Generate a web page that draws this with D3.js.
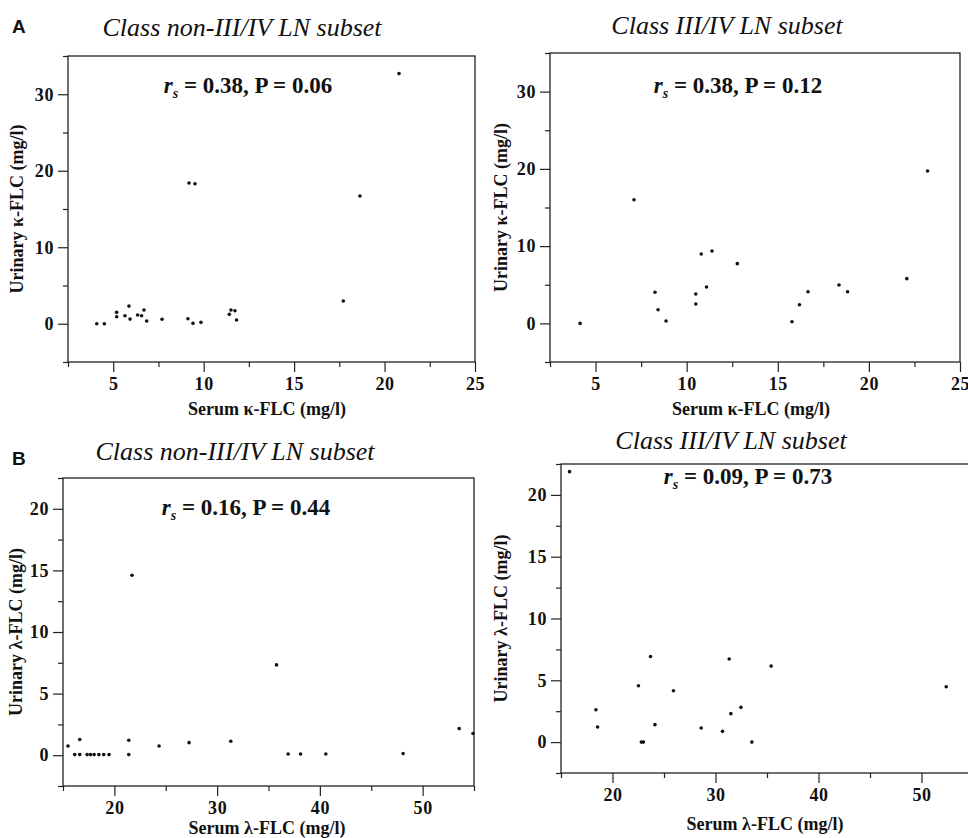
<!DOCTYPE html>
<html>
<head>
<meta charset="utf-8">
<script src="https://cdn.jsdelivr.net/npm/d3@7"></script>
<style>
body { margin: 0; background: #fff; }
svg text { font-family: "Liberation Serif", "Times New Roman", serif; fill: #111; }
.tick line { stroke: #222; stroke-width: 1.2; }
.frame { fill: none; stroke: #222; stroke-width: 1.3; }
</style>
</head>
<body>
<svg id="fig" width="968" height="838"></svg>
<script>
// data: [serum FLC, urinary FLC] in mg/l
var kappaNon = [[20.8,32.7],[9.19,18.4],[9.52,18.3],[18.64,16.7],[17.72,2.97],
	[4.09,0],[4.51,0],[5.19,1.49],[5.19,0.92],[5.65,1.05],[5.87,2.31],[5.93,0.61],
	[6.35,1.14],[6.57,1.05],[6.70,1.79],[6.85,0.35],[7.70,0.58],[9.13,0.65],
	[9.41,0.05],[9.85,0.18],[11.42,1.23],[11.51,1.79],[11.73,1.70],[11.82,0.49]];
var kappaIII = [[4.15,0],[7.11,16.0],[8.26,4.03],[8.43,1.77],[8.87,0.31],[10.5,3.8],
	[10.5,2.51],[10.8,8.98],[11.09,4.71],[11.39,9.37],[12.78,7.73],[15.78,0.22],
	[16.19,2.42],[16.66,4.1],[18.36,4.97],[18.83,4.1],[22.08,5.79],[23.22,19.73]];
var lambdaNon = [[15.49,0.75],[16.63,1.27],[16.14,0.05],[16.63,0.05],[17.35,0.05],
	[17.68,0.05],[18.03,0.05],[18.49,0.05],[18.96,0.05],[19.48,0.05],[21.4,1.21],
	[21.4,0.05],[21.72,14.61],[24.35,0.75],[27.27,1.02],[31.33,1.13],[35.78,7.33],
	[36.91,0.1],[38.12,0.1],[40.58,0.1],[48.1,0.13],[53.56,2.16],[54.9,1.76]];
var lambdaIII = [[15.83,21.88],[18.39,2.62],[18.55,1.22],[22.52,4.56],[22.8,0],[23.0,0],
	[23.69,6.93],[24.12,1.41],[25.92,4.16],[28.61,1.14],[30.68,0.87],[31.33,6.72],
	[31.49,2.3],[32.47,2.81],[33.53,0],[35.4,6.15],[52.4,4.48]];

var kappaXTicks = [5,10,15,20,25], kappaXMinor = [2.5,7.5,12.5,17.5,22.5];
var kappaYTicks = [0,10,20,30], kappaYMinor = [-5,5,15,25,35];
var lambdaXTicks = [20,30,40,50], lambdaXMinor = [15,25,35,45,55];
var lambdaYTicks = [0,5,10,15,20], lambdaYMinor = [-2.5,2.5,7.5,12.5,17.5,22.5];

var titles = ["Class non-III/IV LN subset", "Class III/IV LN subset"];
var stats = [["0.38","0.06"],["0.38","0.12"],["0.16","0.44"],["0.09","0.73"]];
var xTitles = ["Serum \u03ba-FLC (mg/l)", "Serum \u03bb-FLC (mg/l)"];
var yTitles = ["Urinary \u03ba-FLC (mg/l)", "Urinary \u03bb-FLC (mg/l)"];

var serif = "'Liberation Serif', 'Times New Roman', serif";
var svg = d3.select("#fig");

var panels = [
	{data: kappaNon, l: 68, r: 475, t: 56, b: 362, xd: [2.5,25], yd: [-5,35],
	 xt: kappaXTicks, xm: kappaXMinor, yt: kappaYTicks, ym: kappaYMinor,
	 title: titles[0], tx: 242, ty: 36, st: stats[0], sx: 248, sy: 93,
	 xl: xTitles[0], xlx: 267, xly: 415, yl: yTitles[0], ylx: 23},
	{data: kappaIII, l: 550, r: 960, t: 53, b: 362, xd: [2.5,25], yd: [-5,35],
	 xt: kappaXTicks, xm: kappaXMinor, yt: kappaYTicks, ym: kappaYMinor,
	 title: titles[1], tx: 727, ty: 34, st: stats[1], sx: 738, sy: 93,
	 xl: xTitles[0], xlx: 751, xly: 415, yl: yTitles[0], ylx: 507},
	{data: lambdaNon, l: 63, r: 474, t: 478, b: 786, xd: [15,55], yd: [-2.5,22.5],
	 xt: lambdaXTicks, xm: lambdaXMinor, yt: lambdaYTicks, ym: lambdaYMinor,
	 title: titles[0], tx: 235, ty: 460, st: stats[2], sx: 246, sy: 515,
	 xl: xTitles[1], xlx: 267, xly: 834, yl: yTitles[1], ylx: 22},
	{data: lambdaIII, l: 561, r: 973, t: 464, b: 773, xd: [15,55], yd: [-2.5,22.5],
	 xt: lambdaXTicks, xm: lambdaXMinor, yt: lambdaYTicks, ym: lambdaYMinor,
	 title: titles[1], tx: 731, ty: 449, st: stats[3], sx: 748, sy: 484,
	 xl: xTitles[1], xlx: 765, xly: 830, yl: yTitles[1], ylx: 507}
];

function styleTicks(s) {
	s.select(".domain").remove();
	s.selectAll(".tick text")
		.style("font-family", serif)
		.style("font-weight", "bold")
		.style("font-size", "18px")
		.style("letter-spacing", "0.6px")
		.style("fill", "#111");
}

panels.forEach(function(p) {
	var x = d3.scaleLinear().domain(p.xd).range([p.l, p.r]);
	var y = d3.scaleLinear().domain(p.yd).range([p.b, p.t]);
	var g = svg.append("g");

	// frame
	g.append("rect").attr("class", "frame")
		.attr("x", p.l).attr("y", p.t)
		.attr("width", p.r - p.l).attr("height", p.b - p.t);

	// axes, major + minor
	g.append("g").attr("transform", "translate(0," + p.b + ")")
		.call(d3.axisBottom(x).tickValues(p.xt).tickSize(10).tickPadding(5))
		.call(styleTicks);
	g.append("g").attr("transform", "translate(0," + p.b + ")")
		.call(d3.axisBottom(x).tickValues(p.xm).tickSize(5).tickFormat(""))
		.call(styleTicks);
	g.append("g").attr("transform", "translate(" + p.l + ",0)")
		.call(d3.axisLeft(y).tickValues(p.yt).tickSize(10).tickPadding(4))
		.call(styleTicks);
	g.append("g").attr("transform", "translate(" + p.l + ",0)")
		.call(d3.axisLeft(y).tickValues(p.ym).tickSize(5).tickFormat(""))
		.call(styleTicks);

	// points
	g.append("g").selectAll("circle")
		.data(p.data)
		.enter()
		.append("circle")
		.attr("cx", function(d){ return x(d[0]); })
		.attr("cy", function(d){ return y(d[1]); })
		.attr("r", 1.8)
		.style("fill", "#111");

	// titles
	g.append("text")
		.attr("x", p.tx).attr("y", p.ty)
		.style("font-family", serif)
		.style("text-anchor", "middle").style("font-style", "italic")
		.style("font-size", "26px")
		.text(p.title);

	var st = g.append("text")
		.attr("x", p.sx).attr("y", p.sy)
		.style("font-family", serif)
		.style("text-anchor", "middle").style("font-weight", "bold")
		.style("font-size", "23px");
	st.append("tspan").style("font-style", "italic").text("r");
	st.append("tspan").style("font-style", "italic").style("font-size", "14px")
		.attr("dy", 5).text("s");
	st.append("tspan").attr("dy", -5).text(" = " + p.st[0] + ", P = " + p.st[1]);

	g.append("text")
		.attr("x", p.xlx).attr("y", p.xly)
		.style("font-family", serif)
		.style("text-anchor", "middle").style("font-weight", "bold")
		.style("font-size", "18px")
		.text(p.xl);

	g.append("text")
		.attr("transform", "translate(" + p.ylx + "," + ((p.t + p.b) / 2) + ")rotate(-90)")
		.style("font-family", serif)
		.style("text-anchor", "middle").style("font-weight", "bold")
		.style("font-size", "18px")
		.text(p.yl);
});

// panel letters
svg.append("text").attr("x", 12).attr("y", 33)
	.style("font-family", "'Liberation Sans', Arial, sans-serif")
	.style("font-weight", "bold").style("font-size", "19px").text("A");
svg.append("text").attr("x", 12).attr("y", 465)
	.style("font-family", "'Liberation Sans', Arial, sans-serif")
	.style("font-weight", "bold").style("font-size", "19px").text("B");
</script>
</body>
</html>
